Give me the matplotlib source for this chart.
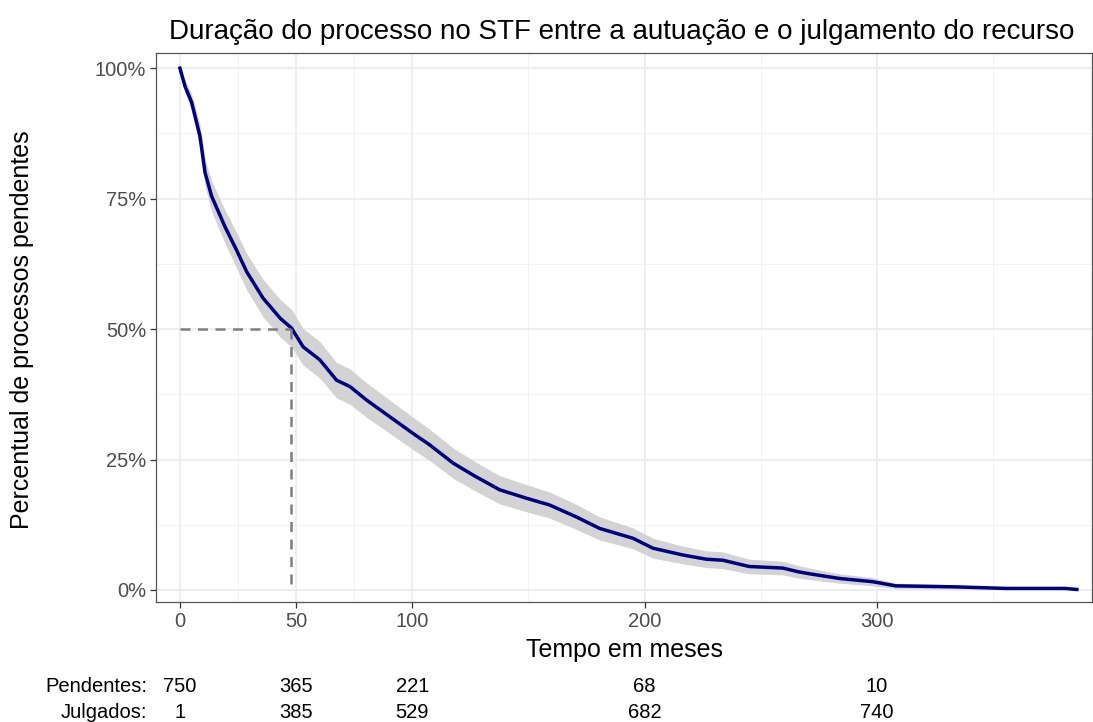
import matplotlib
matplotlib.use("Agg")
import matplotlib.pyplot as plt
from matplotlib.ticker import FuncFormatter, FixedLocator

plt.rcParams['font.family'] = ['Liberation Sans', 'DejaVu Sans']

# curva de sobrevivencia (meses, % pendente)
meses = [0, 2.2, 5, 8.6, 10.8, 13.6, 19.4, 24.4, 28.7, 35.8, 43.3, 48, 53, 60.2,
         67.4, 73.1, 80.3, 90.3, 100.3, 107.5, 117.6, 127, 137.6, 149, 159, 170.6,
         180.6, 195, 203.6, 216.5, 226.5, 233.7, 245, 259.5, 266, 271, 284, 298,
         308, 334, 355.6, 381, 386]
pend = [100, 96.5, 93.5, 87.0, 80.0, 75.5, 69.6, 65.1, 61, 55.9, 52, 50.2, 46.6,
        44.1, 40.2, 39, 36.4, 33.2, 30, 27.8, 24.3, 21.8, 19.2, 17.6, 16.3, 14.0,
        11.8, 9.9, 8.0, 6.7, 5.9, 5.7, 4.5, 4.2, 3.5, 3.1, 2.2, 1.6, 0.8, 0.6,
        0.3, 0.3, 0.1]
# meia-largura do intervalo de confianca (pontos percentuais)
ic = [0, 1.2, 1.6, 2.2, 2.6, 2.9, 3.2, 3.4, 3.5, 3.6, 3.6, 3.6, 3.5, 3.5, 3.4,
      3.4, 3.3, 3.2, 3.1, 3.0, 2.9, 2.8, 2.7, 2.6, 2.5, 2.4, 2.2, 2.0, 1.9, 1.7,
      1.6, 1.6, 1.4, 1.3, 1.2, 1.1, 0.9, 0.8, 0.5, 0.4, 0.2, 0.2, 0.1]

mediana = 48
tab_x = [0, 50, 100, 200, 300]
pendentes = [750, 365, 221, 68, 10]
julgados = [1, 385, 529, 682, 740]

W, H = 1093, 722
fig = plt.figure(figsize=(W / 100, H / 100), dpi=100)
ax = fig.add_axes([156 / W, 1 - 602 / H, (1092 - 156) / W, (602 - 53) / H])

lo = [p - c for p, c in zip(pend, ic)]
hi = [p + c for p, c in zip(pend, ic)]
ax.fill_between(meses, lo, hi, color='#d3d3d3', lw=0, zorder=2)
ax.plot(meses, pend, color='#000080', lw=2.5, zorder=3, solid_joinstyle='round')

ax.plot([0, mediana], [50, 50], ls=(0, (4, 3)), color='#7f7f7f', lw=1.8, zorder=4)
ax.plot([mediana, mediana], [50, 0], ls=(0, (4, 3)), color='#7f7f7f', lw=1.8, zorder=4)

ax.set_xlim(-10.3, 392.5)
ax.set_ylim(-2.3, 102.9)
ax.xaxis.set_major_locator(FixedLocator([0, 50, 100, 200, 300]))
ax.xaxis.set_minor_locator(FixedLocator([25, 75, 150, 250, 350]))
ax.yaxis.set_major_locator(FixedLocator([0, 25, 50, 75, 100]))
ax.yaxis.set_minor_locator(FixedLocator([12.5, 37.5, 62.5, 87.5]))
ax.yaxis.set_major_formatter(FuncFormatter(lambda v, p: '%d%%' % v))

ax.grid(which='major', color='#ebebeb', lw=1.2, zorder=0)
ax.grid(which='minor', color='#f2f2f2', lw=0.7, zorder=0)
ax.set_axisbelow(True)
ax.tick_params(which='major', length=4, width=0.9, color='#333333',
               labelsize=14.5, labelcolor='#4d4d4d', pad=3)
ax.tick_params(which='minor', length=0)
for s in ax.spines.values():
    s.set_color('#555555')
    s.set_linewidth(0.9)

ax.set_xlabel('Tempo em meses', fontsize=18, labelpad=5)
fig.text(22 / W, 1 - 330 / H, 'Percentual de processos pendentes', fontsize=18,
         rotation=90, ha='center', va='center')
fig.text(622 / W, 1 - 32 / H,
         'Duração do processo no STF entre a autuação e o julgamento do recurso',
         fontsize=20, ha='center', va='center')

trans = matplotlib.transforms.blended_transform_factory(ax.transData, fig.transFigure)
y1, y2 = 1 - 686 / H, 1 - 713 / H
fig.text(147 / W, y1, 'Pendentes:', fontsize=14.5, ha='right', va='center')
fig.text(147 / W, y2, 'Julgados:', fontsize=14.5, ha='right', va='center')
for xv, p, j in zip(tab_x, pendentes, julgados):
    ax.text(xv, y1, str(p), transform=trans, fontsize=14.5, ha='center', va='center')
    ax.text(xv, y2, str(j), transform=trans, fontsize=14.5, ha='center', va='center')

fig.savefig('out.png', dpi=100)
